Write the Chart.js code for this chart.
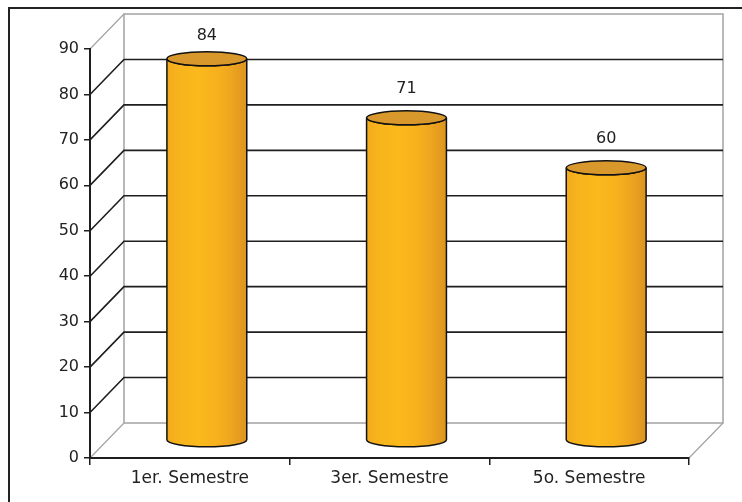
<!DOCTYPE html>
<html>
<head>
<meta charset="utf-8">
<script src="https://cdn.jsdelivr.net/npm/chart.js@4/dist/chart.umd.min.js"></script>
<style>
  html, body { margin: 0; padding: 0; background: #fff; }
  #wrap { width: 742px; height: 502px; position: relative; }
</style>
</head>
<body>
<div id="wrap"><canvas id="chart"></canvas></div>
<script>
// data
const semestres = ['1er. Semestre', '3er. Semestre', '5o. Semestre'];
const alumnos = [84, 71, 60];
const yMax = 90;
const yStep = 10;

// 3d look
const DEPTH_X = 34;
const DEPTH_Y = -35;
const FONT = { family: 'DejaVu Sans, Arial, sans-serif', size: 16 };
const DARK = '#1e1e1e';
const GRAY = '#a3a3a3';

const framePlugin = {
  id: 'frame3d',
  beforeDraw(chart) {
    const ctx = chart.ctx;
    const a = chart.chartArea;
    const y = chart.scales.y;
    ctx.save();
    // outer box
    ctx.strokeStyle = '#222';
    ctx.lineWidth = 2;
    ctx.strokeRect(9, 8, 800, 600);

    // back wall
    ctx.lineWidth = 1.5;
    ctx.strokeStyle = GRAY;
    ctx.strokeRect(a.left + DEPTH_X, a.top + DEPTH_Y, a.right - a.left, a.bottom - a.top);

    for (let v = 0; v <= yMax; v += yStep) {
      const py = y.getPixelForValue(v);
      const edge = v === 0 || v === yMax;
      ctx.strokeStyle = edge ? GRAY : DARK;
      ctx.lineWidth = edge ? 1.2 : 1.6;
      ctx.beginPath();
      ctx.moveTo(a.left, py);
      ctx.lineTo(a.left + DEPTH_X, py + DEPTH_Y);
      if (!edge) ctx.lineTo(a.right + DEPTH_X, py + DEPTH_Y);
      ctx.stroke();
    }
    // floor right edge
    ctx.strokeStyle = GRAY;
    ctx.lineWidth = 1.2;
    ctx.beginPath();
    ctx.moveTo(a.right, a.bottom);
    ctx.lineTo(a.right + DEPTH_X, a.bottom + DEPTH_Y);
    ctx.stroke();
    ctx.restore();
  },
  afterDatasetsDraw(chart) {
    const ctx = chart.ctx;
    const meta = chart.getDatasetMeta(0);
    const ry = 7;
    ctx.save();
    meta.data.forEach((bar, i) => {
      const rx = bar.width / 2;
      const cx = bar.x + DEPTH_X / 2;
      const top = bar.y + DEPTH_Y / 2;
      const base = bar.base + DEPTH_Y / 2;

      const g = ctx.createLinearGradient(cx - rx, 0, cx + rx, 0);
      g.addColorStop(0, '#f2aa1d');
      g.addColorStop(0.15, '#f8b41c');
      g.addColorStop(0.4, '#fbb91c');
      g.addColorStop(0.65, '#f6b01d');
      g.addColorStop(0.8, '#eea51f');
      g.addColorStop(1, '#dd9420');

      // body
      ctx.beginPath();
      ctx.moveTo(cx - rx, top);
      ctx.lineTo(cx - rx, base);
      ctx.ellipse(cx, base, rx, ry, 0, Math.PI, 0, true);
      ctx.lineTo(cx + rx, top);
      ctx.ellipse(cx, top, rx, ry, 0, 0, Math.PI, false);
      ctx.closePath();
      ctx.fillStyle = g;
      ctx.fill();
      ctx.strokeStyle = '#111';
      ctx.lineWidth = 1.5;
      ctx.stroke();

      // lid
      ctx.beginPath();
      ctx.ellipse(cx, top, rx, ry, 0, 0, Math.PI * 2);
      ctx.fillStyle = '#d9982c';
      ctx.fill();
      ctx.stroke();

      // value label
      ctx.fillStyle = '#222';
      ctx.font = FONT.size + 'px ' + FONT.family;
      ctx.textAlign = 'center';
      ctx.textBaseline = 'middle';
      const ly = Math.max(top - 29, chart.chartArea.top - 13);
      ctx.fillText(String(alumnos[i]), cx, ly);
    });
    ctx.restore();
  }
};

new Chart(document.getElementById('chart'), {
  type: 'bar',
  data: {
    labels: semestres,
    datasets: [{
      data: alumnos,
      backgroundColor: 'rgba(0,0,0,0)',
      borderWidth: 0,
      barPercentage: 0.8,
      categoryPercentage: 0.5
    }]
  },
  plugins: [framePlugin],
  options: {
    responsive: true,
    maintainAspectRatio: false,
    animation: false,
    layout: { padding: { top: 49, right: 53, bottom: 0, left: 0 } },
    plugins: {
      legend: { display: false },
      tooltip: { enabled: false }
    },
    scales: {
      y: {
        min: 0,
        max: yMax,
        afterFit(scale) { scale.width = 90; },
        ticks: { stepSize: yStep, color: '#222', font: FONT, padding: 5 },
        grid: { drawOnChartArea: false, tickLength: 6, color: DARK, lineWidth: 1.5 },
        border: { color: DARK, width: 2 }
      },
      x: {
        afterFit(scale) { scale.height = 44; },
        ticks: { color: '#222', font: { family: FONT.family, size: 17 }, padding: 3 },
        grid: { offset: true, drawOnChartArea: false, tickLength: 7, color: DARK, lineWidth: 1.5 },
        border: { color: DARK, width: 2 }
      }
    }
  }
});
</script>
</body>
</html>
